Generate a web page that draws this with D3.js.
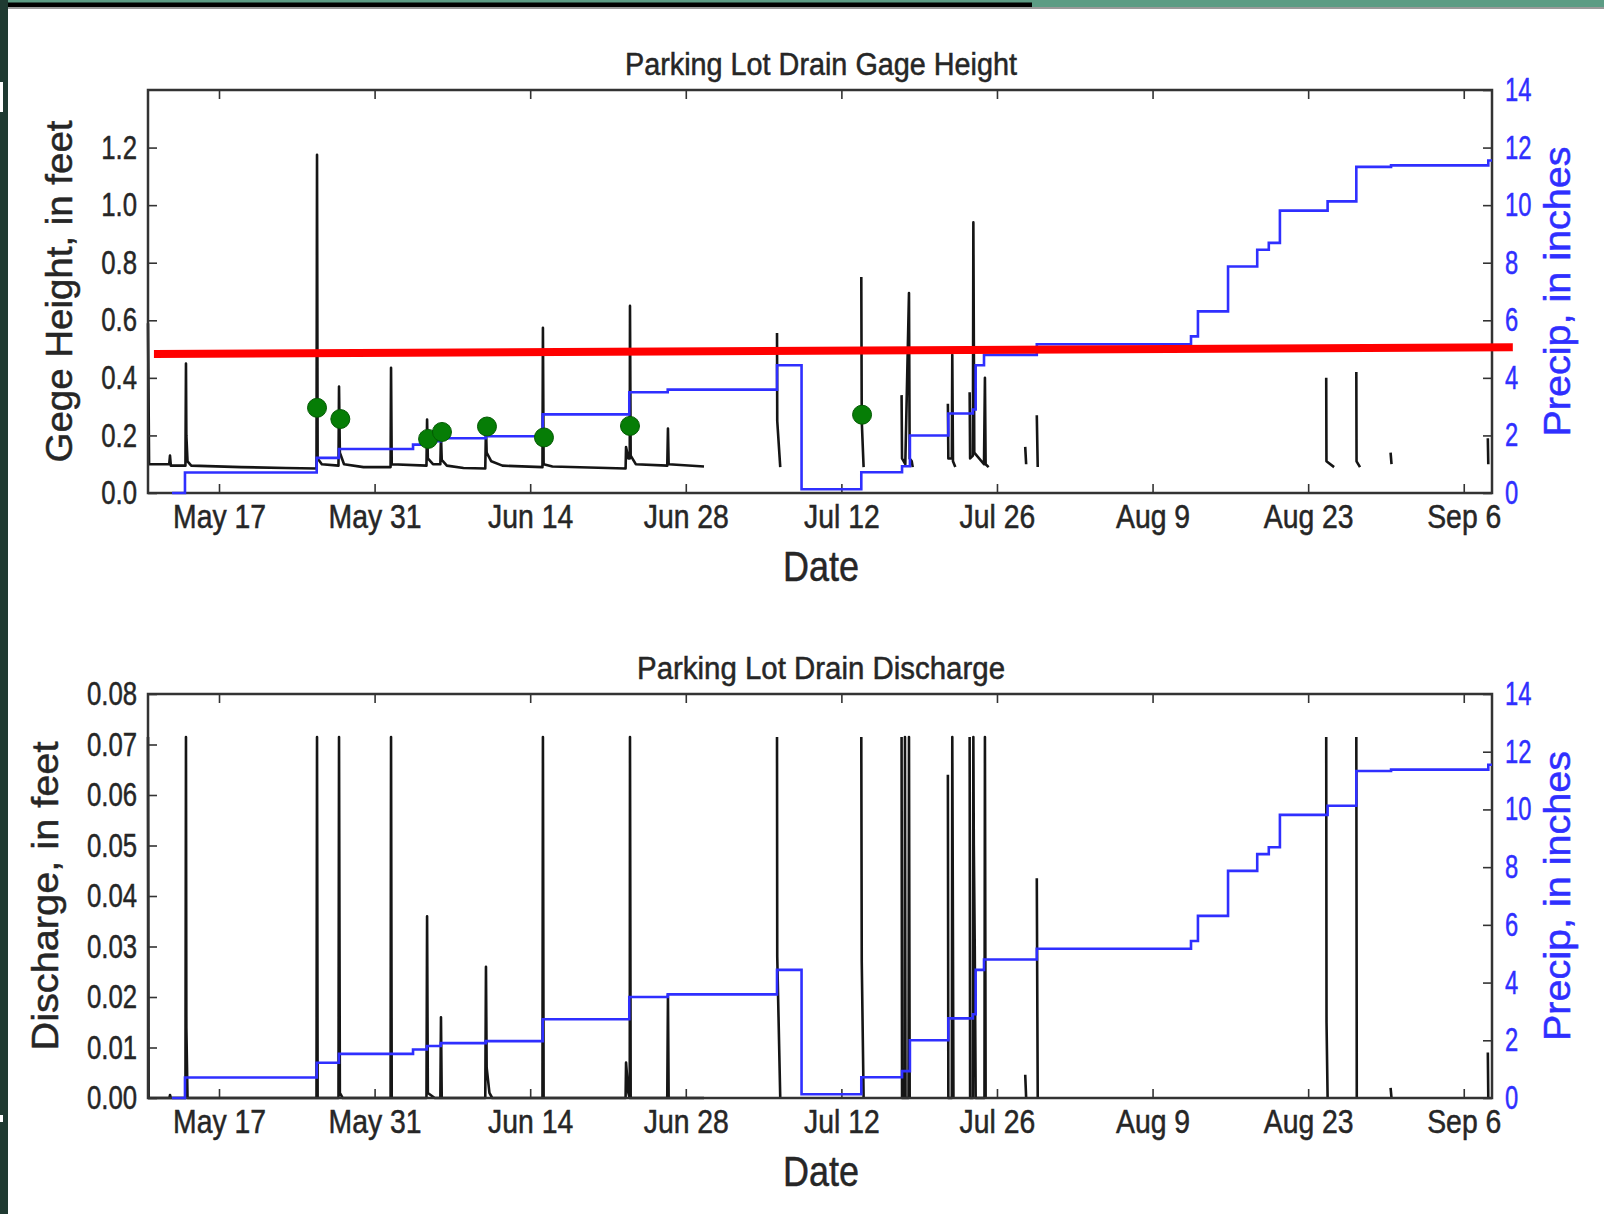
<!DOCTYPE html>
<html>
<head>
<meta charset="utf-8">
<script src="https://cdn.jsdelivr.net/npm/d3@7"></script>
<style>
  html, body { margin: 0; padding: 0; background: #ffffff; }
  svg { display: block; font-family: "Liberation Sans Narrow", "Liberation Sans", Arial, sans-serif; }
</style>
</head>
<body>
<svg id="chart" width="1604" height="1214"></svg>
<script>
// ---- data -------------------------------------------------------------
const xDomain = ["2016-05-10T14:40", "2016-09-08T13:00"];
const dateTicks = ["2016-05-17", "2016-05-31", "2016-06-14", "2016-06-28",
                   "2016-07-12", "2016-07-26", "2016-08-09", "2016-08-23", "2016-09-06"];
const gageTicks = [0.0, 0.2, 0.4, 0.6, 0.8, 1.0, 1.2];
const dischargeTicks = [0.00, 0.01, 0.02, 0.03, 0.04, 0.05, 0.06, 0.07, 0.08];
const precipTicks = [0, 2, 4, 6, 8, 10, 12, 14];

// gage height, feet (null marks a gap in the record)
const gageHeight = [
  ["2016-05-10T14:40", 0.59], ["2016-05-10T17:00", 0.10],
  ["2016-05-12T12:30", 0.10], ["2016-05-12T14:10", 0.13], ["2016-05-12T16:00", 0.095],
  ["2016-05-13T23:30", 0.095], ["2016-05-14T00:40", 0.45], ["2016-05-14T01:30", 0.20],
  ["2016-05-14T04:00", 0.11], ["2016-05-14T12:00", 0.095], ["2016-05-19T00:00", 0.09],
  ["2016-05-23T00:00", 0.087], ["2016-05-25T18:30", 0.085], ["2016-05-25T19:40", 1.175],
  ["2016-05-25T21:00", 0.12], ["2016-05-26T06:00", 0.10], ["2016-05-27T18:00", 0.095],
  ["2016-05-27T19:10", 0.37], ["2016-05-27T21:00", 0.14], ["2016-05-28T06:00", 0.10],
  ["2016-05-30T00:00", 0.09], ["2016-06-01T10:30", 0.09], ["2016-06-01T11:30", 0.435],
  ["2016-06-01T13:00", 0.10], ["2016-06-04T16:00", 0.095], ["2016-06-04T17:20", 0.255],
  ["2016-06-04T19:00", 0.12], ["2016-06-05T06:00", 0.10], ["2016-06-05T22:00", 0.10],
  ["2016-06-05T23:20", 0.20], ["2016-06-06T01:00", 0.115], ["2016-06-06T12:00", 0.095],
  ["2016-06-08T00:00", 0.087], ["2016-06-09T23:00", 0.085], ["2016-06-10T00:30", 0.23],
  ["2016-06-10T02:00", 0.14], ["2016-06-10T12:00", 0.11], ["2016-06-11T12:00", 0.095],
  ["2016-06-15T02:30", 0.09], ["2016-06-15T03:30", 0.574], ["2016-06-15T05:00", 0.10],
  ["2016-06-16T00:00", 0.092], ["2016-06-22T14:00", 0.085], ["2016-06-22T15:00", 0.16],
  ["2016-06-22T20:00", 0.12], ["2016-06-22T23:00", 0.12], ["2016-06-22T23:30", 0.65],
  ["2016-06-23T01:00", 0.13], ["2016-06-23T12:00", 0.10], ["2016-06-26T08:00", 0.095],
  ["2016-06-26T09:30", 0.224], ["2016-06-26T11:00", 0.10], ["2016-06-29T15:20", 0.092],
  ["2016-07-01T00:00", null],
  ["2016-07-06T05:00", 0.556], ["2016-07-06T05:30", 0.25], ["2016-07-06T12:00", 0.09],
  ["2016-07-10T00:00", null],
  ["2016-07-13T19:00", 0.75], ["2016-07-13T20:00", 0.25], ["2016-07-14T00:00", 0.09],
  ["2016-07-15T00:00", null],
  ["2016-07-17T10:00", 0.34], ["2016-07-17T11:00", 0.12], ["2016-07-17T18:00", 0.10],
  ["2016-07-18T02:00", 0.695], ["2016-07-18T03:30", 0.12], ["2016-07-18T08:00", 0.11],
  ["2016-07-18T10:00", 0.09],
  ["2016-07-20T00:00", null],
  ["2016-07-21T14:00", 0.31], ["2016-07-21T15:00", 0.12], ["2016-07-21T22:30", 0.12],
  ["2016-07-21T23:30", 0.48], ["2016-07-22T01:00", 0.11], ["2016-07-22T06:00", 0.09],
  ["2016-07-23T00:00", null],
  ["2016-07-23T13:00", 0.35], ["2016-07-23T14:00", 0.12], ["2016-07-23T20:00", 0.13],
  ["2016-07-23T21:00", 0.94], ["2016-07-23T23:00", 0.14], ["2016-07-24T20:00", 0.10],
  ["2016-07-24T22:00", 0.40], ["2016-07-24T23:30", 0.10], ["2016-07-25T06:00", 0.09],
  ["2016-07-27T00:00", null],
  ["2016-07-28T13:00", 0.16], ["2016-07-28T15:00", 0.10],
  ["2016-07-29T00:00", null],
  ["2016-07-29T14:00", 0.27], ["2016-07-29T16:00", 0.09],
  ["2016-08-01T00:00", null],
  ["2016-08-24T15:00", 0.40], ["2016-08-24T15:30", 0.11], ["2016-08-25T08:00", 0.09],
  ["2016-08-26T00:00", null],
  ["2016-08-27T08:00", 0.42], ["2016-08-27T08:30", 0.11], ["2016-08-27T16:00", 0.09],
  ["2016-08-29T00:00", null],
  ["2016-08-30T10:00", 0.14], ["2016-08-30T12:00", 0.10],
  ["2016-09-01T00:00", null],
  ["2016-09-08T04:00", 0.19], ["2016-09-08T05:00", 0.10]
];

// discharge (null marks a gap in the record)
const discharge = [
  ["2016-05-10T14:40", 0.0715], ["2016-05-10T16:00", 0.0],
  ["2016-05-12T13:00", 0.0], ["2016-05-12T14:10", 0.0006], ["2016-05-12T16:00", 0.0],
  ["2016-05-13T23:30", 0.0], ["2016-05-14T00:40", 0.0715], ["2016-05-14T01:30", 0.014],
  ["2016-05-14T04:00", 0.0], ["2016-05-25T18:30", 0.0], ["2016-05-25T19:40", 0.0715],
  ["2016-05-25T21:00", 0.0], ["2016-05-27T18:00", 0.0], ["2016-05-27T19:10", 0.0715],
  ["2016-05-27T21:00", 0.001], ["2016-05-28T03:00", 0.0], ["2016-06-01T10:30", 0.0],
  ["2016-06-01T11:30", 0.0715], ["2016-06-01T13:00", 0.0], ["2016-06-04T16:00", 0.0],
  ["2016-06-04T17:20", 0.036], ["2016-06-04T19:00", 0.001], ["2016-06-05T10:00", 0.0],
  ["2016-06-05T22:00", 0.0], ["2016-06-05T23:20", 0.016], ["2016-06-06T01:00", 0.0],
  ["2016-06-09T23:00", 0.0], ["2016-06-10T00:30", 0.026], ["2016-06-10T02:00", 0.006],
  ["2016-06-10T08:00", 0.001], ["2016-06-10T14:00", 0.0], ["2016-06-15T02:30", 0.0],
  ["2016-06-15T03:30", 0.0715], ["2016-06-15T05:00", 0.0], ["2016-06-22T14:00", 0.0],
  ["2016-06-22T15:00", 0.007], ["2016-06-22T20:00", 0.001], ["2016-06-22T23:00", 0.0],
  ["2016-06-22T23:30", 0.0715], ["2016-06-23T01:00", 0.0], ["2016-06-26T08:00", 0.0],
  ["2016-06-26T09:30", 0.0204], ["2016-06-26T11:00", 0.0], ["2016-06-29T15:20", 0.0],
  ["2016-07-01T00:00", null],
  ["2016-07-06T05:00", 0.0715], ["2016-07-06T05:30", 0.028], ["2016-07-06T12:00", 0.0],
  ["2016-07-10T00:00", null],
  ["2016-07-13T19:00", 0.0715], ["2016-07-13T20:00", 0.027], ["2016-07-14T00:00", 0.0],
  ["2016-07-15T00:00", null],
  ["2016-07-17T10:00", 0.0715], ["2016-07-17T11:00", 0.0], ["2016-07-17T16:30", 0.0],
  ["2016-07-17T17:20", 0.0715], ["2016-07-17T18:30", 0.0], ["2016-07-18T01:00", 0.0],
  ["2016-07-18T02:00", 0.0715], ["2016-07-18T03:30", 0.0],
  ["2016-07-20T00:00", null],
  ["2016-07-21T14:00", 0.064], ["2016-07-21T15:00", 0.0], ["2016-07-21T22:30", 0.0],
  ["2016-07-21T23:30", 0.0715], ["2016-07-22T00:30", 0.044], ["2016-07-22T02:00", 0.0],
  ["2016-07-23T00:00", null],
  ["2016-07-23T13:00", 0.0715], ["2016-07-23T14:00", 0.0], ["2016-07-23T20:00", 0.0],
  ["2016-07-23T21:00", 0.0715], ["2016-07-23T22:00", 0.05], ["2016-07-24T00:00", 0.03],
  ["2016-07-24T02:00", 0.0], ["2016-07-24T21:00", 0.0], ["2016-07-24T22:00", 0.0715],
  ["2016-07-24T23:30", 0.0],
  ["2016-07-27T00:00", null],
  ["2016-07-28T13:00", 0.0046], ["2016-07-28T15:00", 0.0],
  ["2016-07-29T00:00", null],
  ["2016-07-29T14:00", 0.0435], ["2016-07-29T16:00", 0.0],
  ["2016-08-01T00:00", null],
  ["2016-08-24T15:00", 0.0715], ["2016-08-24T15:40", 0.015], ["2016-08-24T18:00", 0.0],
  ["2016-08-26T00:00", null],
  ["2016-08-27T08:00", 0.0715], ["2016-08-27T09:00", 0.0],
  ["2016-08-29T00:00", null],
  ["2016-08-30T10:00", 0.002], ["2016-08-30T12:00", 0.0],
  ["2016-09-01T00:00", null],
  ["2016-09-08T04:00", 0.009], ["2016-09-08T05:00", 0.0]
];

// cumulative precipitation, inches (value holds until the next entry)
const cumulativePrecip = [
  ["2016-05-12T18:30", 0.0], ["2016-05-13T22:30", 0.71], ["2016-05-25T19:00", 1.22],
  ["2016-05-27T19:00", 1.53], ["2016-06-03T11:00", 1.68], ["2016-06-04T17:00", 1.80],
  ["2016-06-05T23:00", 1.90], ["2016-06-10T00:00", 1.97], ["2016-06-15T03:00", 2.73],
  ["2016-06-22T22:00", 3.50], ["2016-06-26T09:00", 3.59], ["2016-07-06T05:00", 4.44],
  ["2016-07-08T10:00", 0.13], ["2016-07-13T19:00", 0.72], ["2016-07-17T11:00", 0.93],
  ["2016-07-18T04:00", 2.00], ["2016-07-21T15:00", 2.76], ["2016-07-23T20:00", 2.90],
  ["2016-07-24T02:00", 4.44], ["2016-07-24T20:00", 4.80], ["2016-07-29T14:00", 5.17],
  ["2016-08-12T11:00", 5.44], ["2016-08-13T02:00", 6.31], ["2016-08-15T19:00", 7.87],
  ["2016-08-18T10:00", 8.45], ["2016-08-19T11:00", 8.69], ["2016-08-20T11:00", 9.81],
  ["2016-08-24T18:00", 10.13], ["2016-08-27T08:00", 11.33], ["2016-08-30T11:00", 11.38],
  ["2016-09-08T05:00", 11.55], ["2016-09-08T13:00", 11.55]
];

// field-measured gage heights
const fieldMeasurements = [
  ["2016-05-25T19:40", 0.296], ["2016-05-27T22:00", 0.257], ["2016-06-04T19:30", 0.188],
  ["2016-06-06T01:30", 0.212], ["2016-06-10T02:40", 0.231], ["2016-06-15T05:45", 0.193],
  ["2016-06-22T23:30", 0.233], ["2016-07-13T20:40", 0.272]
];

// reference level drawn across the gage panel
const referenceLevel = [["2016-05-11T03:30", 0.483], ["2016-09-10T10:00", 0.506]];

// ---- drawing ------------------------------------------------------------
const parseTime = d3.timeParse("%Y-%m-%dT%H:%M");
const parseDay = d3.timeParse("%Y-%m-%d");
const svg = d3.select("#chart");

const INK = "#262626";
const BLUE = "#2f2fff";
const PLOT_L = 148, PLOT_R = 1492;

// page frame
svg.append("rect").attr("width", 1604).attr("height", 1214).attr("fill", "#ffffff");
svg.append("rect").attr("x", 0).attr("y", 0).attr("width", 1604).attr("height", 7).attr("fill", "#5c9c84");
svg.append("rect").attr("x", 0).attr("y", 2.5).attr("width", 1032).attr("height", 5).attr("fill", "#000000");
svg.append("rect").attr("x", 8).attr("y", 7).attr("width", 1596).attr("height", 2).attr("fill", "#9a9a9a");
svg.append("rect").attr("x", 0).attr("y", 0).attr("width", 8).attr("height", 1214).attr("fill", "#1f3a31");
svg.append("rect").attr("x", 0).attr("y", 82).attr("width", 3).attr("height", 30).attr("fill", "#ffffff");
svg.append("rect").attr("x", 0).attr("y", 1115).attr("width", 3).attr("height", 7).attr("fill", "#ffffff");

const x = d3.scaleTime()
  .domain(xDomain.map(parseTime))
  .range([PLOT_L, PLOT_R]);

// squeeze tick labels horizontally into a condensed face, keeping their anchor point
function condense(sel, factor) {
  sel.each(function () {
    const t = d3.select(this);
    const x0 = +t.attr("x") || 0;
    t.attr("x", x0 / factor).attr("transform", `scale(${factor},1)`);
  });
}

function drawPanel(cfg) {
  const g = svg.append("g");
  const top = cfg.top, bottom = cfg.bottom;
  const y = d3.scaleLinear().domain(cfg.yDomain).range([bottom, top]);
  const yP = d3.scaleLinear().domain([0, 14]).range([bottom, top]);

  // primary series
  const line = d3.line()
    .defined(d => d[1] !== null)
    .x(d => x(parseTime(d[0])))
    .y(d => y(d[1]));
  g.append("path")
    .datum(cfg.series)
    .attr("d", line)
    .attr("fill", "none")
    .attr("stroke", "#151515")
    .attr("stroke-width", 2.6)
    .attr("stroke-linejoin", "round");

  // frame
  g.append("rect")
    .attr("x", PLOT_L).attr("y", top)
    .attr("width", PLOT_R - PLOT_L).attr("height", bottom - top)
    .attr("fill", "none").attr("stroke", "#333333").attr("stroke-width", 2.5);

  const styleAxis = (sel, color, factor) => {
    sel.select(".domain").remove();
    sel.selectAll(".tick line").attr("stroke", "#333333").attr("stroke-width", 1.6);
    const t = sel.selectAll(".tick text")
      .attr("fill", color).attr("font-size", 33)
      .attr("stroke", color).attr("stroke-width", 0.5);
    if (factor) condense(t, factor);
  };

  // date axis
  const dates = dateTicks.map(parseDay);
  g.append("g")
    .attr("transform", `translate(0,${bottom})`)
    .call(d3.axisBottom(x).tickValues(dates).tickFormat(d3.timeFormat("%b %-d"))
      .tickSize(-9).tickPadding(12))
    .call(s => styleAxis(s, INK, 0.86));
  g.append("g")
    .attr("transform", `translate(0,${top})`)
    .call(d3.axisTop(x).tickValues(dates).tickFormat("").tickSize(-9))
    .call(s => styleAxis(s, INK));

  // primary y axis
  g.append("g")
    .attr("transform", `translate(${PLOT_L},0)`)
    .call(d3.axisLeft(y).tickValues(cfg.yTicks).tickFormat(d3.format(cfg.yFormat))
      .tickSize(-9).tickPadding(11))
    .call(s => styleAxis(s, INK, 0.78));

  // precipitation axis
  g.append("g")
    .attr("transform", `translate(${PLOT_R},0)`)
    .call(d3.axisRight(yP).tickValues(precipTicks).tickFormat(d3.format("d"))
      .tickSize(-9).tickPadding(13))
    .call(s => styleAxis(s, BLUE, 0.72));

  // cumulative precipitation
  const precipLine = d3.line()
    .curve(d3.curveStepAfter)
    .x(d => x(parseTime(d[0])))
    .y(d => yP(d[1]));
  g.append("path")
    .datum(cumulativePrecip)
    .attr("d", precipLine)
    .attr("fill", "none")
    .attr("stroke", BLUE)
    .attr("stroke-width", 2.6);

  if (cfg.points) {
    g.selectAll("circle.meas")
      .data(cfg.points)
      .join("circle")
      .attr("class", "meas")
      .attr("cx", d => x(parseTime(d[0])))
      .attr("cy", d => y(d[1]))
      .attr("r", 9.5)
      .attr("fill", "#067d06")
      .attr("stroke", "#045a04")
      .attr("stroke-width", 1);
  }

  if (cfg.level) {
    g.append("line")
      .attr("x1", x(parseTime(cfg.level[0][0]))).attr("y1", y(cfg.level[0][1]))
      .attr("x2", x(parseTime(cfg.level[1][0]))).attr("y2", y(cfg.level[1][1]))
      .attr("stroke", "#ff0000").attr("stroke-width", 8);
  }

  // titles and labels
  g.append("text")
    .attr("x", 821).attr("y", top - 15)
    .attr("text-anchor", "middle")
    .attr("font-size", 31).attr("fill", INK)
    .attr("stroke", INK).attr("stroke-width", 0.5)
    .attr("textLength", cfg.titleWidth).attr("lengthAdjust", "spacingAndGlyphs")
    .text(cfg.title);

  g.append("text")
    .attr("x", 821).attr("y", bottom + 88)
    .attr("text-anchor", "middle")
    .attr("font-size", 42).attr("fill", INK)
    .attr("stroke", INK).attr("stroke-width", 0.5)
    .attr("textLength", 76).attr("lengthAdjust", "spacingAndGlyphs")
    .text("Date");

  const mid = (top + bottom) / 2;
  g.append("text")
    .attr("transform", `translate(${cfg.yLabelX},${mid}) rotate(-90)`)
    .attr("text-anchor", "middle")
    .attr("font-size", 37).attr("fill", INK)
    .attr("stroke", INK).attr("stroke-width", 0.5)
    .attr("textLength", cfg.yLabelWidth).attr("lengthAdjust", "spacingAndGlyphs")
    .text(cfg.yLabel);

  g.append("text")
    .attr("transform", `translate(1570,${mid}) rotate(-90)`)
    .attr("text-anchor", "middle")
    .attr("font-size", 37).attr("fill", BLUE)
    .attr("stroke", BLUE).attr("stroke-width", 0.5)
    .attr("textLength", 290).attr("lengthAdjust", "spacingAndGlyphs")
    .text("Precip, in inches");
}

drawPanel({
  top: 90, bottom: 493,
  yDomain: [0, 1.4], yTicks: gageTicks, yFormat: ".1f",
  series: gageHeight,
  points: fieldMeasurements,
  level: referenceLevel,
  title: "Parking Lot Drain Gage Height", titleWidth: 392,
  yLabel: "Gege Height, in feet", yLabelX: 72, yLabelWidth: 342
});

drawPanel({
  top: 694, bottom: 1098,
  yDomain: [0, 0.08], yTicks: dischargeTicks, yFormat: ".2f",
  series: discharge,
  title: "Parking Lot Drain Discharge", titleWidth: 368,
  yLabel: "Discharge, in feet", yLabelX: 58, yLabelWidth: 309
});
</script>
</body>
</html>
